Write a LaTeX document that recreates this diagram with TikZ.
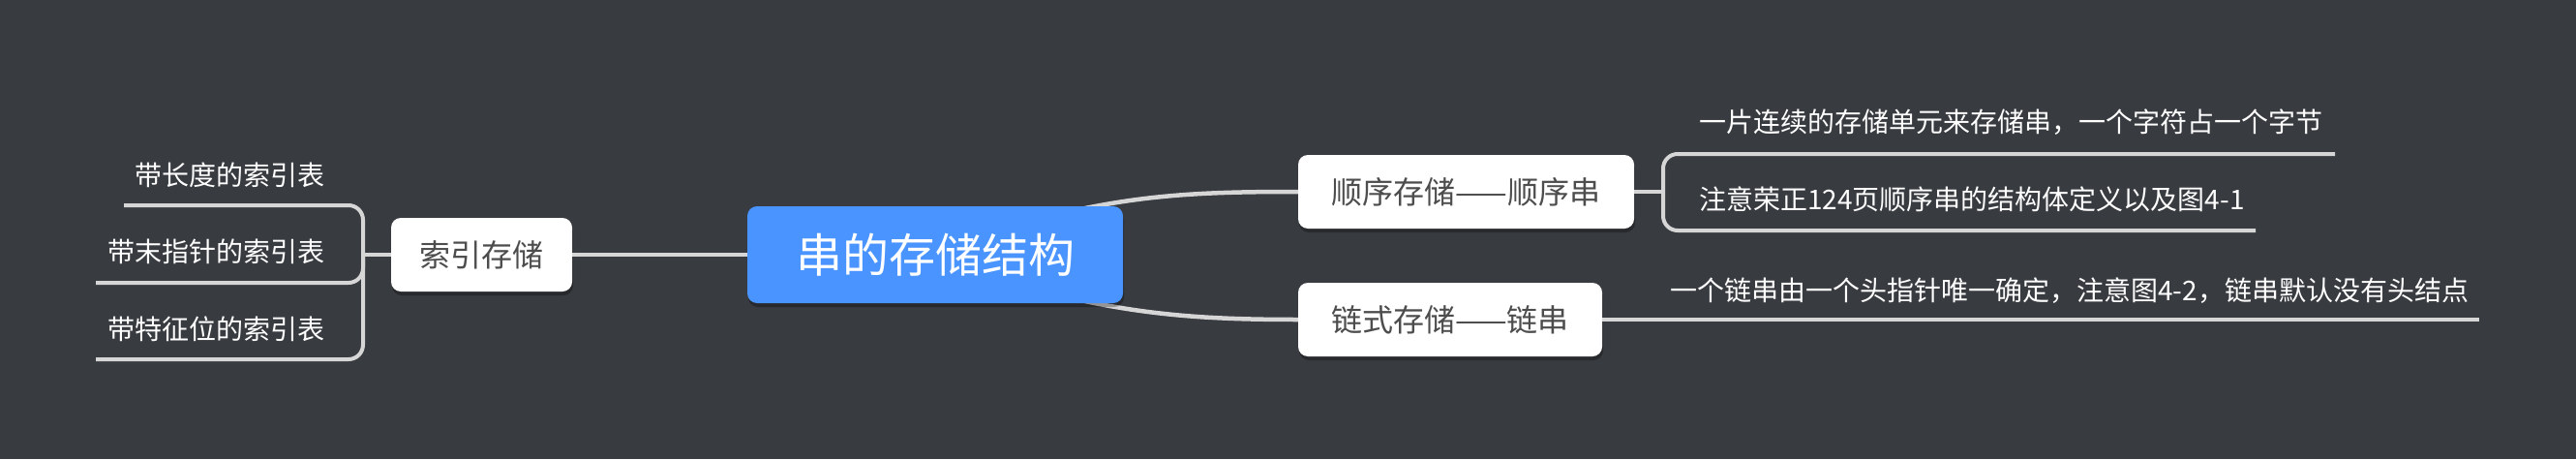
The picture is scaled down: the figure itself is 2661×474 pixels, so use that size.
\documentclass[tikz,border=0pt]{standalone}
\usepackage{fontspec}
\setmainfont{Noto Sans CJK SC}
\usetikzlibrary{shadows}
\definecolor{bgc}{HTML}{383B40}
\definecolor{rootc}{HTML}{4A94FF}
\definecolor{linec}{HTML}{D6D6D6}
\definecolor{boxtext}{HTML}{4D4D4D}
\pgfdeclarelayer{bglayer}
\pgfdeclarelayer{curvelayer}
\pgfsetlayers{bglayer,curvelayer,main}
\tikzset{
  boxshadow/.style={drop shadow={shadow xshift=1pt, shadow yshift=-4pt, opacity=0.3, fill=black}},
  rootbox/.style={fill=rootc, rounded corners=10pt, minimum width=388pt, minimum height=100pt,
    text=white, font=\fontsize{48}{52}\selectfont, inner sep=0pt, boxshadow},
  subbox/.style={fill=white, rounded corners=10pt, minimum height=76pt,
    text=boxtext, font=\fontsize{32}{36}\selectfont, inner sep=0pt, boxshadow},
  leaf/.style={text=white, font=\fontsize{28}{32}\selectfont, inner sep=0pt},
  conn/.style={draw=linec, line width=4pt},
  rootconn/.style={draw=linec, line width=4.5pt},
  brace/.style={draw=linec, line width=4pt, rounded corners=15pt},
}
\begin{document}
\begin{tikzpicture}[x=1pt, y=-1pt]
\begin{pgfonlayer}{bglayer}
\fill[bgc] (0,0) rectangle (2661,474);
\end{pgfonlayer}
\useasboundingbox (0,0) rectangle (2661,474);

% nodes
\node[rootbox] (root) at (966,263) {串的存储结构};
\node[subbox, minimum width=187pt] (idx) at (497.5,263) {索引存储};
\node[subbox, minimum width=347pt] (seq) at (1514.5,198) {顺序存储——顺序串};
\node[subbox, minimum width=314pt] (lnk) at (1498,330) {链式存储——链串};

% root connectors
\draw[conn] (idx.east) -- (root.west);
\begin{pgfonlayer}{curvelayer}
\draw[rootconn] ([xshift=124pt,yshift=41pt]root.center) .. controls (1180,200) and (1250,198) .. (seq.west);
\draw[rootconn] ([xshift=124pt,yshift=-41pt]root.center) .. controls (1180,326) and (1250,330) .. (lnk.west);
\end{pgfonlayer}

% left leaves
\node[leaf, anchor=east] (l1) at (336,181) {带长度的索引表};
\node[leaf, anchor=east] (l2) at (336,260) {带末指针的索引表};
\node[leaf, anchor=east] (l3) at (336,340) {带特征位的索引表};
\coordinate (lh) at (375,263);
\coordinate (l1e) at (128,212);
\coordinate (l2e) at (99,292);
\coordinate (l3e) at (99,371);
\draw[conn] (idx.west) -- (lh);
\draw[brace] (lh) -- (lh |- l1e) -- (l1e);
\draw[brace] (lh) -- (lh |- l2e) -- (l2e);
\draw[brace] (lh) -- (lh |- l3e) -- (l3e);

% right leaves of seq
\node[leaf, anchor=west] (r1) at (1755,126) {一片连续的存储单元来存储串，一个字符占一个字节};
\node[leaf, anchor=west] (r2) at (1755,206) {注意荣正124页顺序串的结构体定义以及图4-1};
\coordinate (rh) at (1718,198);
\coordinate (r1e) at (2412,159);
\coordinate (r2e) at (2330,238);
\draw[conn] (seq.east) -- (rh);
\draw[brace] (rh) -- (rh |- r1e) -- (r1e);
\draw[brace] (rh) -- (rh |- r2e) -- (r2e);

% leaf of lnk
\node[leaf, anchor=west] (r3) at (1725,300) {一个链串由一个头指针唯一确定，注意图4-2，链串默认没有头结点};
\coordinate (r3e) at (2561,330);
\draw[conn] (lnk.east) -- (r3e);
\end{tikzpicture}
\end{document}
